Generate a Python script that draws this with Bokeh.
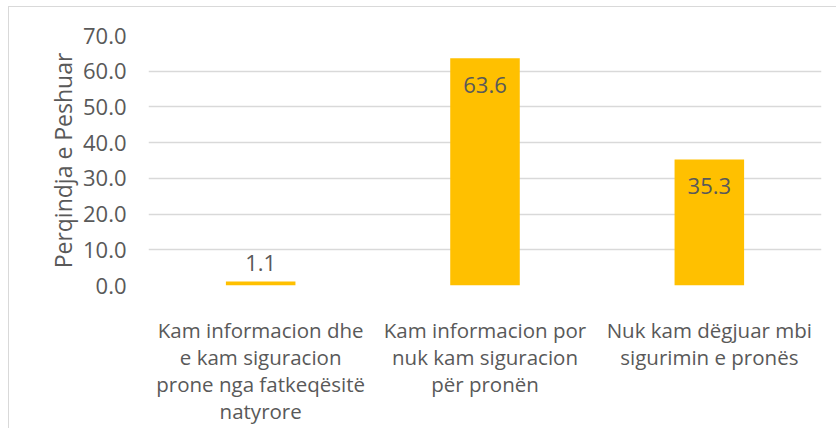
from bokeh.plotting import figure
from bokeh.models import ColumnDataSource, NumeralTickFormatter, FixedTicker, Range1d
from bokeh.core.properties import value
from bokeh.embed import file_html
from bokeh.resources import INLINE

categories = [
    "Kam informacion dhe\ne kam siguracion\nprone nga fatkeqësitë\nnatyrore",
    "Kam informacion por\nnuk kam siguracion\npër pronën",
    "Nuk kam dëgjuar mbi\nsigurimin e pronës",
]
values = [1.1, 63.6, 35.3]
y_ticks = [0, 10, 20, 30, 40, 50, 60, 70]
y_title = "Perqindja e Peshuar"

FONT = "Open Sans"
TXT = "#595959"
FS = "22px"

labels = ["%.1f" % v for v in values]
offsets = [27 if v > 5 else -19 for v in values]
src = ColumnDataSource(dict(cat=categories, val=values, lab=labels, off=offsets))

p = figure(x_range=categories, width=828, height=422, output_backend="svg",
           toolbar_location=None, tools="",
           min_border_left=139, min_border_right=16, min_border_top=28, min_border_bottom=144)
p.styles = {"border-left": "1.5px solid #D9D9D9", "border-top": "1.5px solid #D9D9D9",
            "margin-left": "8px", "margin-top": "6px"}
p.y_range = Range1d(0, 70)
p.x_range.range_padding = 0

p.vbar(x="cat", top="val", width=0.31, source=src, color="#FFC000", line_color=None)
p.text(x="cat", y="val", text="lab", y_offset="off", source=src,
       text_align="center", text_baseline="middle", text_color=TXT,
       text_font=value(FONT), text_font_size=FS)

p.outline_line_color = None
p.xgrid.grid_line_color = None
p.ygrid.grid_line_color = "#D9D9D9"
p.ygrid.grid_line_width = 1.5

p.yaxis.ticker = FixedTicker(ticks=y_ticks)
p.yaxis.formatter = NumeralTickFormatter(format="0.0")
for ax in (p.xaxis, p.yaxis):
    ax.axis_line_color = None
    ax.major_tick_line_color = None
    ax.minor_tick_line_color = None
    ax.major_tick_out = 0
    ax.major_tick_in = 0
    ax.major_label_text_color = TXT
    ax.major_label_text_font = FONT
    ax.major_label_text_font_size = FS
p.xaxis.major_label_text_font_size = "20.5px"
p.yaxis.major_label_standoff = 22
p.xaxis.major_label_standoff = 30
p.xaxis.major_label_text_line_height = 0.97
p.yaxis.axis_label = y_title
p.yaxis.axis_label_text_font = FONT
p.yaxis.axis_label_text_font_size = "23px"
p.yaxis.axis_label_text_font_style = "normal"
p.yaxis.axis_label_text_color = TXT
p.yaxis.axis_label_standoff = 1

open("out.html", "w").write(file_html(p, INLINE))
